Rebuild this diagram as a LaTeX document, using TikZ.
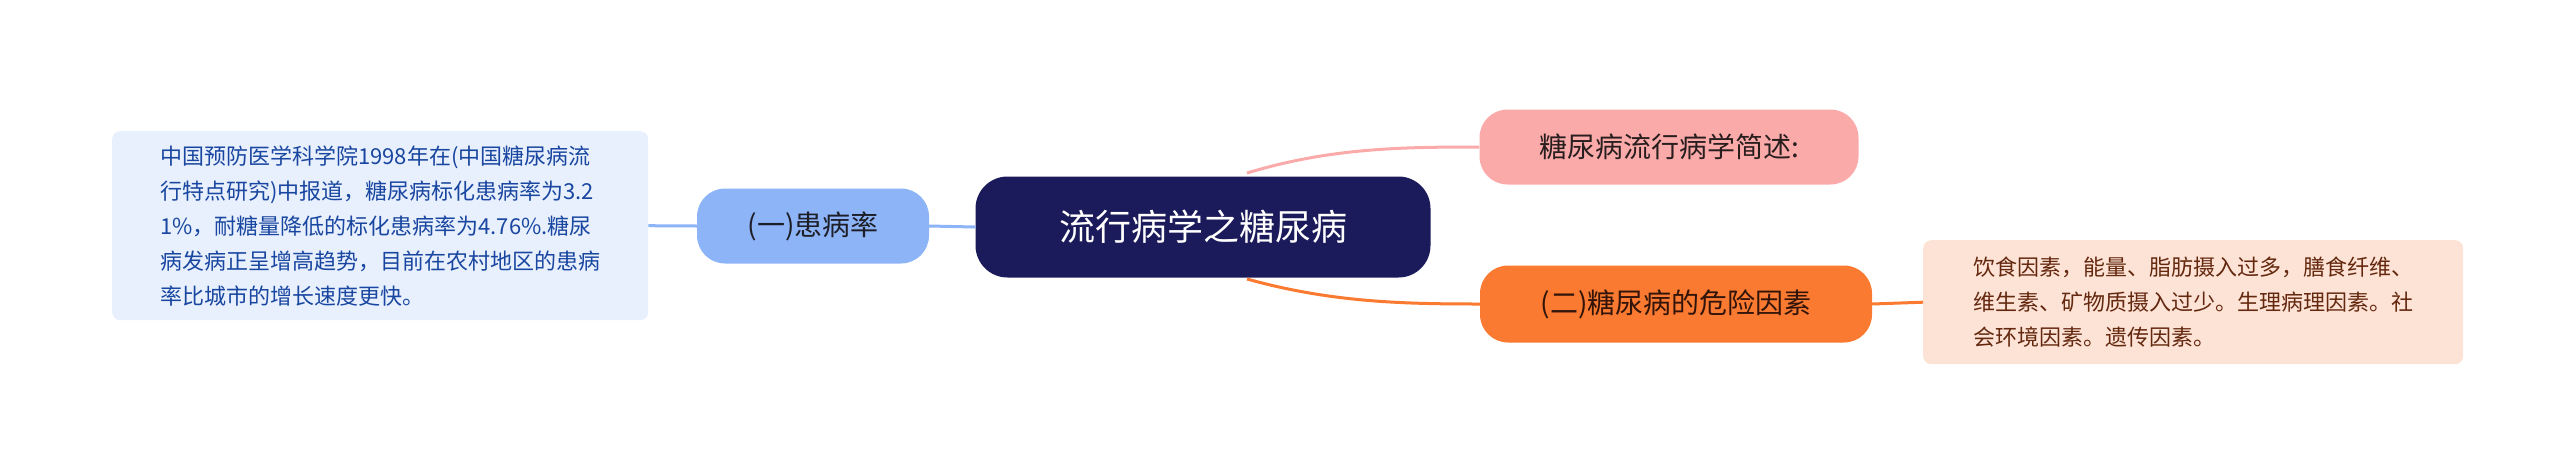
\documentclass[tikz,border=0pt]{standalone}
\usepackage{fontspec}
\setmainfont{Noto Sans CJK SC}
\begin{document}
\begin{tikzpicture}[x=1pt,y=-1pt,
  pill/.style={rounded corners=28pt,minimum height=75pt,inner xsep=20pt,font=\fontsize{28}{32}\selectfont},
  card/.style={rounded corners=8pt,align=left,anchor=north west,inner xsep=14pt,inner ysep=10pt,font=\fontsize{22}{35}\selectfont},
  link/.style={line width=3pt}]
\useasboundingbox (0,0) rectangle (2560,475);
\node[fill=white] at (1280,237) {};
\node (root) [fill=black!10!blue!30!black, fill={rgb,255:red,27;green,26;blue,90}, rounded corners=32pt,minimum width=455pt,minimum height=101pt,text=white,font=\fontsize{36}{40}\selectfont] at (1203,227) {流行病学之糖尿病};
\node (a) [pill,fill={rgb,255:red,141;green,180;blue,247},minimum width=232pt,text={rgb,255:red,30;green,30;blue,40}] at (813,226) {(一)患病率};
\node (b) [pill,fill={rgb,255:red,251;green,170;blue,170},minimum width=379pt,text={rgb,255:red,40;green,30;blue,30}] at (1669,147) {糖尿病流行病学简述:};
\node (c) [pill,fill={rgb,255:red,249;green,122;blue,48},minimum width=392pt,minimum height=77pt,text={rgb,255:red,50;green,20;blue,10}] at (1676,304) {(二)糖尿病的危险因素};
\node (l) [card,fill={rgb,255:red,232;green,240;blue,253},text={rgb,255:red,25;green,70;blue,160},minimum width=536pt,minimum height=189pt] at (112,131) {中国预防医学科学院1998年在(中国糖尿病流\\行特点研究)中报道，糖尿病标化患病率为3.2\\1\%，耐糖量降低的标化患病率为4.76\%.糖尿\\病发病正呈增高趋势，目前在农村地区的患病\\率比城市的增长速度更快。};
\node (r) [card,fill={rgb,255:red,253;green,227;blue,214},text={rgb,255:red,100;green,40;blue,15},minimum width=540pt,minimum height=124pt] at (1923,240) {饮食因素，能量、脂肪摄入过多，膳食纤维、\\维生素、矿物质摄入过少。生理病理因素。社\\会环境因素。遗传因素。};
\draw[link,draw={rgb,255:red,141;green,180;blue,247}] (root.west) -- (a.east);
\draw[link,draw={rgb,255:red,141;green,180;blue,247}] (a.west) -- (l.east);
\draw[link,draw={rgb,255:red,249;green,122;blue,48}] (c.east) -- (r.west);
\draw[link,draw={rgb,255:red,251;green,170;blue,170}] (1247,173) .. controls (1330,148) and (1400,147) .. (b.west);
\draw[link,draw={rgb,255:red,249;green,122;blue,48}] (1247,279) .. controls (1330,302) and (1400,304) .. (c.west);
\end{tikzpicture}
\end{document}
